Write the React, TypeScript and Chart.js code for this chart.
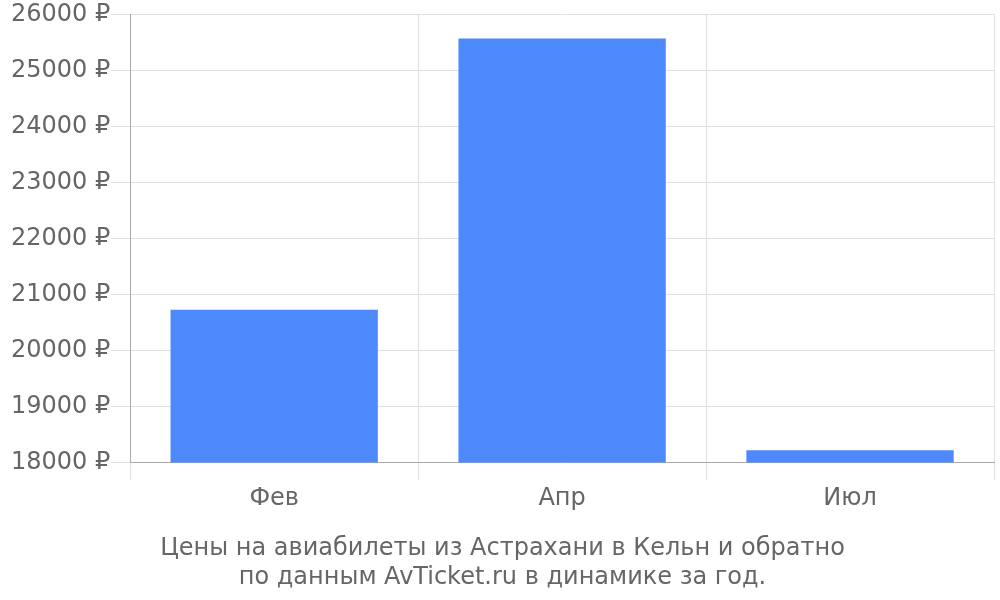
import React, { useEffect, useRef } from "react";
import { Chart, registerables } from "chart.js";

Chart.register(...registerables);

const categories = ["Фев", "Апр", "Июл"];
const prices = [20730, 25570, 18220];
const yMin = 18000;
const yMax = 26000;
const yStep = 1000;
const titleLines = [
  "Цены на авиабилеты из Астрахани в Кельн и обратно",
  "по данным AvTicket.ru в динамике за год.",
];

export default function App() {
  const ref = useRef<HTMLCanvasElement | null>(null);
  useEffect(() => {
    document.body.style.margin = "0";
    const chart = new Chart(ref.current as HTMLCanvasElement, {
      type: "bar",
      data: {
        labels: categories,
        datasets: [
          {
            data: prices,
            backgroundColor: "#4d89fb",
            borderWidth: 0,
          },
        ],
      },
      options: {
        animation: false,
        responsive: false,
        maintainAspectRatio: false,
        layout: { padding: { top: 2, right: 6, left: 11, bottom: 8 } },
        plugins: {
          legend: { display: false },
          tooltip: { enabled: false },
          title: {
            display: true,
            position: "bottom",
            text: titleLines,
            color: "#666666",
            font: { family: "'DejaVu Sans'", size: 24, weight: "normal", lineHeight: 1.2 },
            padding: { top: 17, bottom: 0 },
          },
        },
        scales: {
          x: {
            grid: { color: "#e0e0e0", tickLength: 18, offset: true },
            border: { color: "#aaaaaa" },
            ticks: {
              color: "#666666",
              font: { family: "'DejaVu Sans'", size: 24 },
              padding: 4,
            },
          },
          y: {
            min: yMin,
            max: yMax,
            grid: { color: "#e0e0e0", tickLength: 20 },
            border: { color: "#aaaaaa" },
            ticks: {
              stepSize: yStep,
              color: "#666666",
              font: { family: "'DejaVu Sans'", size: 24 },
              padding: 0,
              callback: (v) => v + " ₽",
            },
          },
        },
      },
    });
    return () => chart.destroy();
  }, []);
  return (
    <div style={{ position: "absolute", left: 0, top: 0, width: 1000, height: 600 }}>
      <canvas ref={ref} width={1000} height={600} style={{ width: 1000, height: 600 }} />
    </div>
  );
}
